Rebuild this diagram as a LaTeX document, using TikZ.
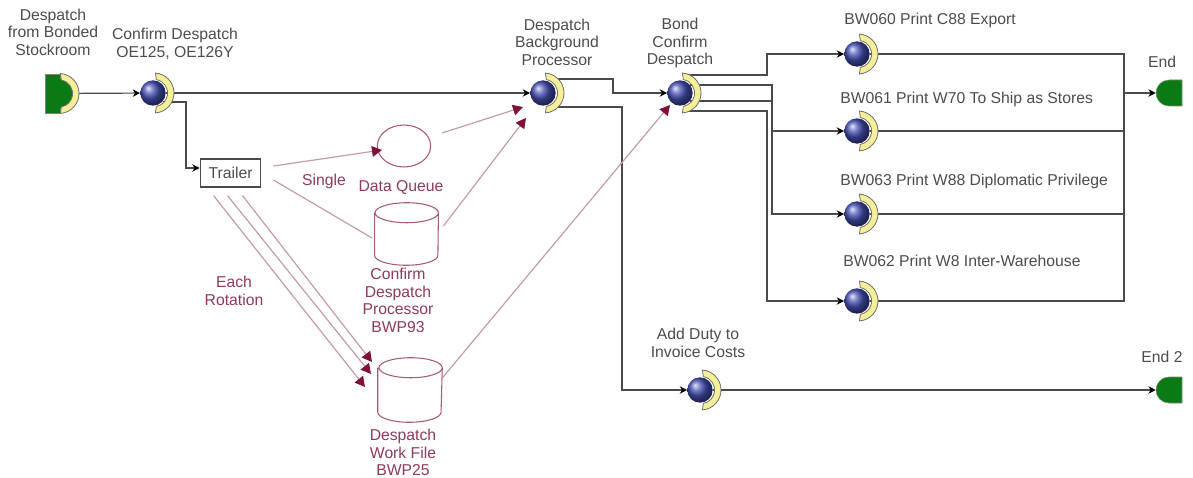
\documentclass[tikz,border=0pt]{standalone}
\usepackage{fontspec}
\setmainfont{Liberation Sans}
\usetikzlibrary{shapes.geometric,shapes.misc,positioning,backgrounds,arrows.meta,calc}

\definecolor{wirecol}{HTML}{4A4A4A}
\definecolor{flowcol}{HTML}{C49AAC}
\definecolor{tipcol}{HTML}{7E1238}
\definecolor{redtext}{HTML}{8F3A5C}
\definecolor{storecol}{HTML}{A85A78}
\definecolor{gatecol}{HTML}{0A7A14}
\definecolor{creamcol}{HTML}{F4EF98}
\definecolor{ballcol}{HTML}{4650B4}

\begin{document}
\begin{tikzpicture}[
  x=0.75pt, y=-0.75pt,
  ball/.style={circle, minimum size=19pt, inner sep=0pt, shading=ball, ball color=ballcol},
  gate/.style={rounded rectangle, draw=wirecol!70, fill=gatecol, inner sep=0pt},
  wire/.style={draw=wirecol, line width=0.9pt},
  wirearrow/.style={wire, -{Stealth[length=5.5pt,width=5.5pt,color=black]}},
  flow/.style={draw=flowcol, line width=0.9pt},
  flowarrow/.style={flow, -{Triangle[length=7.5pt,width=8pt,color=tipcol]}},
  store/.style={draw=storecol, line width=0.8pt},
  label/.style={font=\fontsize{11.8}{13.2}\selectfont, text=black!70, align=center, inner sep=0pt},
  redlabel/.style={label, text=redtext},
]

% === GATES AND ACTIVITIES ===
\node[rectangle, draw=wirecol!70, fill=gatecol, minimum width=11pt, minimum height=29.25pt, inner sep=0pt] (start) at (52.5,93.5) {};
\fill[gatecol] (59,93.5)+(-88:11pt) arc[start angle=-88, end angle=88, radius=11pt] -- cycle;
\node[ball] (confirm) at (153,93) {};
\node[ball] (background) at (543,93) {};
\node[ball] (bond) at (680,93) {};
\node[ball] (print60) at (857,54) {};
\node[ball] (print61) at (857,131) {};
\node[ball] (print63) at (857,214) {};
\node[ball] (print62) at (857,301) {};
\node[ball] (duty) at (700,390) {};
\node[gate, rounded rectangle right arc=none, minimum width=19.5pt, minimum height=19.5pt] (end1) at (1169,93) {};
\node[gate, rounded rectangle right arc=none, minimum width=19.5pt, minimum height=19.5pt] (end2) at (1169,390) {};

% crescents round the gates and balls
\foreach \px/\py in {59/93.5, 154/93, 544/93, 681/93, 858/54, 858/131, 858/214, 858/301, 701/390} {
  \draw[draw=wirecol!80, fill=creamcol, line width=0.6pt]
    ($(\px,\py)+(-86:15pt)$) arc[start angle=-86, end angle=86, radius=15pt]
    -- ($(\px,\py)+(80:10.2pt)$) arc[start angle=80, end angle=-80, radius=10.2pt] -- cycle;
}

% === STORES ===
\node[rectangle, draw=wirecol, line width=0.9pt, minimum width=45.5pt, minimum height=21pt, inner sep=0pt, label] (trailer) at (230.5,173) {Trailer};
\node[ellipse, store, minimum width=40pt, minimum height=31.5pt, inner sep=0pt] (queue) at (404,146) {};
\node[rectangle, minimum width=47.5pt, minimum height=46.5pt, inner sep=0pt] (confirmfile) at (406.5,234) {};
\node[rectangle, minimum width=48pt, minimum height=48pt, inner sep=0pt] (workfile) at (410,390) {};

\foreach \storefile in {confirmfile, workfile} {
  \draw[store] ($(\storefile.north west)+(0,10)$) -- ($(\storefile.south west)+(0,-10)$)
    arc[start angle=180, end angle=360, x radius=23.75pt, y radius=7.5pt]
    -- ($(\storefile.north east)+(0,10)$)
    arc[start angle=0, end angle=360, x radius=23.75pt, y radius=7.5pt]
    arc[start angle=0, end angle=-180, x radius=23.75pt, y radius=7.5pt];
}

% === CONNECTORS ===
\begin{pgfonlayer}{background}
\draw[wirearrow] (start) -- (confirm);
\draw[wirearrow] (confirm) -- (background);
\draw[wirearrow] ($(confirm)+(10,9)$) -- ++(23,0) |- ($(trailer.west)+(0,-5)$);
\draw[wirearrow] ($(background)+(10,-14)$) -- ++(60,0) |- (bond.west);
\draw[wirearrow] ($(background)+(10,14)$) -| (622,390) -- (duty.west);
\draw[wirearrow] ($(bond)+(5,-18)$) -| (767,54) -- (print60.west);
\draw[wirearrow] ($(bond)+(10,-8)$) -| (772,131) -- (print61.west);
\draw[wirearrow] ($(bond)+(10,8)$) -| (772,214) -- (print63.west);
\draw[wirearrow] ($(bond)+(5,18)$) -| (767,301) -- (print62.west);
\draw[wire] (print60) -| (1124,93);
\draw[wire] (print61) -| (1124,93);
\draw[wire] (print63) -| (1124,93);
\draw[wire] (print62) -| (1124,93);
\draw[wirearrow] (1124,93) -- (end1.west);
\draw[wirearrow] (duty) -- (end2.west);
\end{pgfonlayer}

\draw[flowarrow] ($(trailer.east)+(12,-7)$) -- (382,150);
\draw[flowarrow] (442,133) -- (523,107);
\draw[flow] ($(trailer.east)+(12,7)$) -- (372,238);
\draw[flowarrow] ($(confirmfile.east)+(5,-8)$) -- (526,118);
\draw[flowarrow] ($(trailer.south)+(12,8)$) -- (372,362);
\draw[flowarrow] ($(trailer.south)+(-3,8)$) -- (371,374);
\draw[flowarrow] ($(trailer.south)+(-17,8)$) -- (365,387);
\draw[flowarrow] ($(workfile.east)+(0,-12)$) -- (670,105);

% === LABELS ===
\node[label] (startlabel) at (53,32) {Despatch\\from Bonded\\Stockroom};
\node[label] (confirmlabel) at (175,44) {Confirm Despatch\\OE125, OE126Y};
\node[label] (backgroundlabel) at (557,42) {Despatch\\Background\\Processor};
\node[label] (bondlabel) at (680,43) {Bond\\Confirm\\Despatch};
\node[label, anchor=west] (print60label) at (844,20) {BW060 Print C88 Export};
\node[label, anchor=west] (print61label) at (840,99) {BW061 Print W70 To Ship as Stores};
\node[label, anchor=west] (print63label) at (840,181) {BW063 Print W88 Diplomatic Privilege};
\node[label, anchor=west] (print62label) at (843,261) {BW062 Print W8 Inter-Warehouse};
\node[label] (dutylabel) at (698,343) {Add Duty to\\Invoice Costs};
\node[label] (end1label) at (1162,62) {End};
\node[label] (end2label) at (1162,357) {End 2};

\node[redlabel] (singlelabel) at (324,181) {Single};
\node[redlabel] (queuelabel) at (401,187) {Data Queue};
\node[redlabel] (confirmfilelabel) at (398,300.5) {Confirm\\Despatch\\Processor\\BWP93};
\node[redlabel] (rotationlabel) at (234,291) {Each\\Rotation};
\node[redlabel] (workfilelabel) at (403,452.5) {Despatch\\Work File\\BWP25};

\useasboundingbox (0,0) rectangle (1193,478);
\end{tikzpicture}
\end{document}
